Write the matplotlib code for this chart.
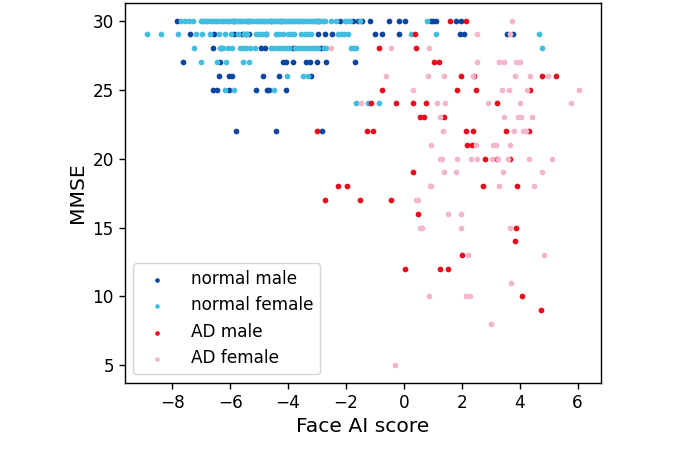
import matplotlib.pyplot as plt

# Face AI score values for each MMSE level, one dict per group
normal_male = {
    30: [-7.84, -5.85, -5.39, -4.58, -4.23, -2.97, -2.21, -1.76, -1.57, -1.43, -1.18,
         -0.51, -0.17, 0.04, 0.92, 1.01, 1.10, 1.79, 1.96],
    29: [-7.37, -6.57, -5.87, -5.60, -5.45, -5.33, -4.77, -2.97, -2.72, -2.47, -1.01,
         -0.77, -0.17, 1.93, 2.07, 3.57, 3.77],
    28: [-6.59, -6.33, -4.92, -4.81, -3.83, -2.85],
    27: [-7.61, -6.34, -4.18, -4.06, -3.83, -3.37, -3.25, -2.99, -2.68, -1.70],
    26: [-6.39, -6.02, -5.92, -4.87, -4.30, -3.22],
    25: [-6.59, -6.44, -6.02, -5.10, -4.73, -4.64, -4.06],
    22: [-5.81, -4.43, -2.81],
}

normal_female = {
    30: [-7.69, -7.55, -7.42, -7.29, -7.00, -6.92, -6.85, -6.78, -6.70, -6.62, -6.55,
         -6.48, -6.40, -6.33, -6.25, -6.18, -6.10, -6.02, -5.95, -5.88, -5.80, -5.73,
         -5.65, -5.58, -5.50, -5.42, -5.35, -5.28, -5.20, -5.12, -5.05, -4.98, -4.90,
         -4.82, -4.75, -4.68, -4.60, -4.52, -4.45, -4.38, -4.30, -4.22, -4.15, -4.08,
         -4.00, -3.92, -3.85, -3.78, -3.70, -3.62, -3.55, -3.48, -3.40, -3.32, -3.25,
         -3.18, -3.10, -3.02, -2.95, -2.88, -2.80, -2.72, -2.50, -2.33, -2.04, -1.95,
         -1.86, -1.52, 0.80],
    29: [-8.88, -8.38, -7.80, -7.17, -6.98, -6.71, -6.39, -6.17, -5.96, -5.74, -5.52,
         -5.40, -5.10, -5.00, -4.90, -4.75, -4.40, -4.30, -4.18, -4.00, -3.90, -3.80,
         -3.54, -3.42, -3.30, -3.19, -2.28, -2.17, -2.06, -1.94, 0.24, 1.11, 4.66],
    28: [-7.23, -6.36, -6.26, -6.08, -5.93, -5.67, -5.56, -5.44, -5.30, -5.15, -4.60,
         -4.50, -4.35, -4.25, -4.15, -4.05, -3.95, -3.75, -3.65, -3.55, -3.45, -3.35,
         -3.25, -3.15, -3.05, -2.95, -2.75, -2.68, -1.81, -1.72, -1.64, 4.78],
    27: [-7.00, -6.46, -6.13, -5.56, -5.36],
    26: [-4.04, -3.48, -3.30],
    25: [-6.19, -5.88, -4.49],
    24: [-1.64, -1.24, -0.86],
}

ad_male = {
    30: [1.59, 2.14],
    29: [0.40],
    28: [-0.87, 0.41],
    27: [1.03, 1.21],
    26: [1.98, 2.43, 4.76, 5.24],
    25: [-0.74, 1.85, 2.49, 4.34],
    24: [-1.12, -0.26, 0.32, 0.78, 3.20],
    23: [0.55, 0.69, 1.38],
    22: [-3.00, -1.27, -1.06, 2.16, 2.39, 3.52, 4.33],
    21: [2.19, 2.34],
    20: [2.81, 3.20, 3.68],
    19: [0.30],
    18: [-2.26, -1.96, 2.74, 3.89],
    17: [-2.71, -1.52, -0.46],
    16: [0.48],
    15: [3.88],
    14: [3.82],
    13: [2.00],
    12: [0.03, 1.26, 1.54],
    10: [4.09],
    9: [4.73],
}

ad_female = {
    30: [3.75],
    29: [2.53, 3.66],
    28: [-2.50, -0.46, 0.87],
    27: [2.54, 3.29, 3.46, 3.87, 4.02],
    26: [-0.63, 0.82, 1.38, 2.39, 3.83, 4.35, 4.98],
    25: [0.30, 3.38, 3.62, 4.24, 6.06],
    24: [-1.47, 1.15, 1.41, 2.89, 4.01, 5.78],
    23: [1.24, 3.45, 3.95, 4.06, 4.42],
    22: [1.36, 3.80, 4.12, 4.21],
    21: [0.95, 2.49, 3.08, 3.18, 3.68],
    20: [1.24, 1.33, 1.84, 2.31, 2.53, 3.03, 3.26, 3.60, 4.33, 5.10],
    19: [1.39, 1.80, 3.42, 4.77],
    18: [0.90, 0.95, 3.29, 4.51],
    17: [0.43, 0.50],
    16: [1.51, 1.96],
    15: [0.55, 0.63, 1.98, 3.67],
    13: [2.20, 4.85],
    11: [3.70],
    10: [0.87, 2.14, 2.27],
    8: [3.00],
    5: [-0.29],
}

labels = ['normal male', 'normal female', 'AD male', 'AD female']
colors = ['#0a469f', '#41bde0', '#ea0a1e', '#f5b6c9']


def flatten(group):
    xs = []
    ys = []
    for mmse, scores in group.items():
        for s in scores:
            xs.append(s)
            ys.append(mmse)
    return xs, ys


fig = plt.figure(figsize=(6.75, 4.5), dpi=100)
ax = fig.add_axes([0.1852, 0.1496, 0.7052, 0.8427])

for group, label, color in zip([normal_male, normal_female, ad_male, ad_female], labels, colors):
    xs, ys = flatten(group)
    ax.scatter(xs, ys, s=17, color=color, linewidths=0, label=label)

ax.set_xlabel('Face AI score', fontsize=14.6)
ax.set_ylabel('MMSE', fontsize=14.6)
ax.tick_params(labelsize=12.2, width=1.0, length=4.5)
for sp in ax.spines.values():
    sp.set_linewidth(1.0)

ax.legend(loc='lower left', fontsize=12.2, markerscale=0.8, handletextpad=1.0)

fig.savefig('out.png', dpi=100)
